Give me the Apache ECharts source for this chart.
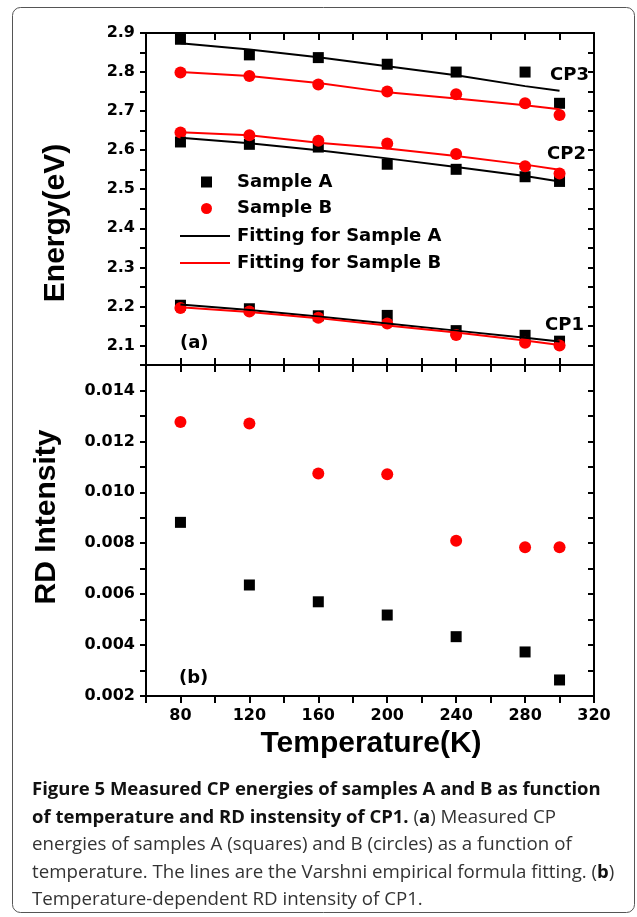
<!DOCTYPE html>
<html>
<head>
<meta charset="utf-8">
<script src="https://cdn.jsdelivr.net/npm/echarts@6/dist/echarts.min.js"></script>
<style>
  html, body { margin: 0; padding: 0; background: #fff; }
  #chart { width: 637px; height: 917px; }
</style>
</head>
<body>
<div id="chart"></div>
<script>
// temperatures (K)
const temps = [80, 120, 160, 200, 240, 280, 300];

// (a) measured CP energies (eV)
const cp3A = [2.884, 2.844, 2.837, 2.820, 2.800, 2.800, 2.720];
const cp3B = [2.799, 2.790, 2.768, 2.750, 2.743, 2.720, 2.690];
const cp2A = [2.621, 2.615, 2.608, 2.564, 2.551, 2.532, 2.520];
const cp2B = [2.645, 2.638, 2.624, 2.617, 2.590, 2.559, 2.540];
const cp1A = [2.203, 2.194, 2.176, 2.177, 2.138, 2.126, 2.111];
const cp1B = [2.196, 2.187, 2.171, 2.156, 2.127, 2.107, 2.100];

// (a) Varshni fitting curves
const fit3A = [2.874, 2.858, 2.838, 2.815, 2.792, 2.764, 2.752];
const fit3B = [2.800, 2.790, 2.772, 2.748, 2.732, 2.715, 2.705];
const fit2A = [2.632, 2.618, 2.600, 2.579, 2.557, 2.534, 2.520];
const fit2B = [2.646, 2.638, 2.619, 2.604, 2.585, 2.563, 2.550];
const fit1A = [2.205, 2.191, 2.174, 2.156, 2.138, 2.120, 2.110];
const fit1B = [2.198, 2.186, 2.170, 2.151, 2.133, 2.113, 2.101];

// (b) RD intensity of CP1
const rdA = [0.00882, 0.00636, 0.00570, 0.00518, 0.00433, 0.00373, 0.00263];
const rdB = [0.01276, 0.01270, 0.01074, 0.01071, 0.00810, 0.00784, 0.00784];

const cpLabels = ['CP3', 'CP2', 'CP1'];
const panelLabels = ['(a)', '(b)'];

const pairs = (ys) => temps.map((t, i) => [t, ys[i]]);

const BLACK = '#000';
const RED = '#ff0000';
const tickFont = { fontFamily: 'DejaVu Sans', fontWeight: 'bold', fontSize: 16, color: BLACK };
const lineStyle = { color: BLACK, width: 2 };

const xLabel = (v) => (v % 40 === 0 ? String(v) : '');
const yLabelA = (v) => {
  const k = Math.round(v * 100);
  return k % 10 === 0 ? (k / 100).toFixed(1) : '';
};
const yLabelB = (v) => {
  const k = Math.round(v * 1000);
  return k % 2 === 0 ? (k / 1000).toFixed(3) : '';
};

const makeX = (gridIndex, position, inside, labels) => ({
  type: 'value', gridIndex, position, min: 60, max: 320, interval: 20,
  axisLine: { show: true, onZero: false, lineStyle },
  axisTick: { show: true, inside, length: 7, lineStyle },
  axisLabel: labels ? { ...tickFont, margin: 12, formatter: xLabel } : { show: false },
  splitLine: { show: false },
});

const makeY = (gridIndex, position, min, max, interval, inside, formatter) => ({
  type: 'value', gridIndex, position, min, max, interval,
  axisLine: { show: true, onZero: false, lineStyle },
  axisTick: { show: true, inside, length: 6, lineStyle },
  axisLabel: formatter ? { ...tickFont, margin: 11, formatter } : { show: false },
  splitLine: { show: false },
});

const fitLine = (name, color, ys) => ({
  name, type: 'line', xAxisIndex: 0, yAxisIndex: 0,
  data: pairs(ys), symbol: 'none', showSymbol: false, smooth: false,
  lineStyle: { color, width: 2 }, itemStyle: { color },
});

const dots = (name, symbol, size, color, data, axis) => ({
  name, type: 'scatter', xAxisIndex: axis, yAxisIndex: axis,
  symbol, symbolSize: size, data, itemStyle: { color, opacity: 1 },
});

const legendText = { fontFamily: 'DejaVu Sans', fontWeight: 'bold', fontSize: 18, color: BLACK, lineHeight: 20 };
const labelFont = 'bold 18px "DejaVu Sans"';
const titleFont = 'bold 30px "Liberation Sans"';

const option = {
  animation: false,
  backgroundColor: '#fff',
  grid: [
    { left: 146, top: 33, width: 448, height: 332 },
    { left: 146, top: 365, width: 448, height: 331 },
  ],
  xAxis: [
    makeX(0, 'bottom', true, false),
    makeX(0, 'top', true, false),
    makeX(1, 'bottom', false, true),
    makeX(1, 'top', true, false),
  ],
  yAxis: [
    makeY(0, 'left', 2.05, 2.9, 0.05, false, yLabelA),
    makeY(0, 'right', 2.05, 2.9, 0.05, true, null),
    makeY(1, 'left', 0.002, 0.015, 0.001, false, yLabelB),
    makeY(1, 'right', 0.002, 0.015, 0.001, true, null),
  ],
  legend: [
    {
      data: ['Sample A', 'Sample B'], orient: 'vertical', left: 201, top: 172, padding: 0,
      itemWidth: 11, itemHeight: 11, itemGap: 6.5,
      textStyle: { ...legendText, padding: [0, 0, 0, 20] },
    },
    {
      data: [
        { name: 'Fitting for Sample A', icon: 'rect' },
        { name: 'Fitting for Sample B', icon: 'rect' },
      ],
      orient: 'vertical', left: 180, top: 226, padding: 0,
      itemWidth: 50, itemHeight: 2, itemGap: 7,
      textStyle: { ...legendText, padding: [0, 0, 0, 2] },
    },
  ],
  series: [
    fitLine('Fitting for Sample A', BLACK, fit3A),
    fitLine('Fitting for Sample A', BLACK, fit2A),
    fitLine('Fitting for Sample A', BLACK, fit1A),
    fitLine('Fitting for Sample B', RED, fit3B),
    fitLine('Fitting for Sample B', RED, fit2B),
    fitLine('Fitting for Sample B', RED, fit1B),
    dots('Sample A', 'rect', 11, BLACK, [...pairs(cp3A), ...pairs(cp2A), ...pairs(cp1A)], 0),
    dots('Sample B', 'circle', 12, RED, [...pairs(cp3B), ...pairs(cp2B), ...pairs(cp1B)], 0),
    dots('Sample A', 'rect', 11, BLACK, pairs(rdA), 2),
    dots('Sample B', 'circle', 12, RED, pairs(rdB), 2),
  ],
  graphic: [
    {
      type: 'rect', shape: { x: 12.5, y: 7.5, width: 622, height: 905, r: 8 },
      style: { fill: 'none', stroke: '#555', lineWidth: 1 }, silent: true,
    },
    { type: 'text', x: 56, y: 223, rotation: Math.PI / 2,
      style: { text: 'Energy(eV)', font: titleFont, fill: BLACK, align: 'center', verticalAlign: 'middle' } },
    { type: 'text', x: 47, y: 517, rotation: Math.PI / 2,
      style: { text: 'RD Intensity', font: titleFont, fill: BLACK, align: 'center', verticalAlign: 'middle' } },
    { type: 'text', x: 371, y: 744,
      style: { text: 'Temperature(K)', font: titleFont, fill: BLACK, align: 'center', verticalAlign: 'middle' } },
    { type: 'text', x: 550, y: 75, style: { text: cpLabels[0], font: labelFont, fill: BLACK, verticalAlign: 'middle' } },
    { type: 'text', x: 547, y: 154, style: { text: cpLabels[1], font: labelFont, fill: BLACK, verticalAlign: 'middle' } },
    { type: 'text', x: 545, y: 325, style: { text: cpLabels[2], font: labelFont, fill: BLACK, verticalAlign: 'middle' } },
    { type: 'text', x: 180, y: 343, style: { text: panelLabels[0], font: labelFont, fill: BLACK, verticalAlign: 'middle' } },
    { type: 'text', x: 179, y: 678, style: { text: panelLabels[1], font: labelFont, fill: BLACK, verticalAlign: 'middle' } },
    {
      type: 'text', x: 32, y: 776,
      style: {
        text: [
          '{b|Figure 5 Measured CP energies of samples A and B as function}',
          '{b|of temperature and RD instensity of CP1.}{n| (}{b|a}{n|) Measured CP}',
          '{n|energies of samples A (squares) and B (circles) as a function of}',
          '{n|temperature. The lines are the Varshni empirical formula fitting. (}{b|b}{n|)}',
          '{n|Temperature-dependent RD intensity of CP1.}',
        ].join('\n'),
        rich: {
          b: { fontFamily: 'Open Sans', fontWeight: 'bold', fontSize: 18.5, lineHeight: 27.5, fill: '#111' },
          n: { fontFamily: 'Open Sans', fontWeight: 'normal', fontSize: 18.7, lineHeight: 27.5, fill: '#333' },
        },
      },
    },
  ],
};

const chart = echarts.init(document.getElementById('chart'));
chart.setOption(option);
</script>
</body>
</html>
